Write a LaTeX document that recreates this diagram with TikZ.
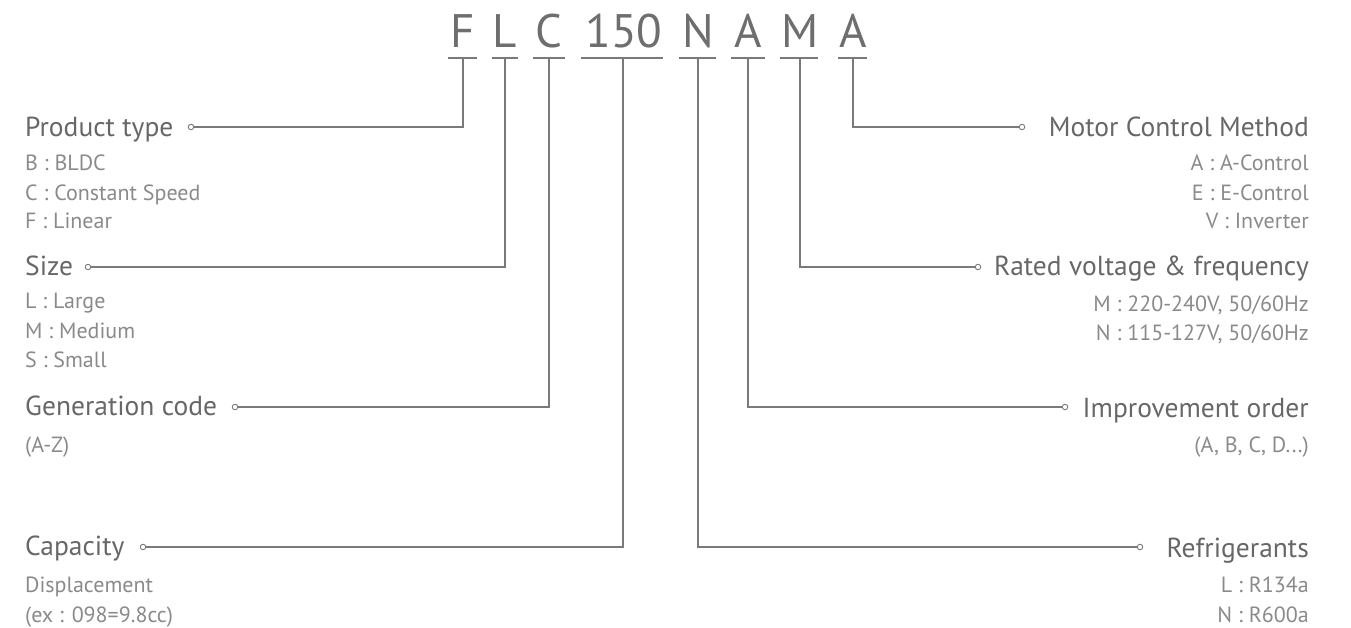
\documentclass[tikz,border=0pt]{standalone}
\usepackage{fontspec}
\setmainfont{PT Sans}
\definecolor{codecol}{HTML}{6E6E6E}
\definecolor{headcol}{HTML}{676767}
\definecolor{subcol}{HTML}{8A8A8A}
\definecolor{linecol}{HTML}{7A7A7A}
\begin{document}
\begin{tikzpicture}[x=1pt,y=-1pt,
  code/.style={font=\fontsize{47}{47}\selectfont, text=codecol, anchor=base, inner sep=0},
  head/.style={font=\fontsize{27.5}{27.5}\selectfont, text=headcol, inner sep=0},
  sub/.style={font=\fontsize{22}{22}\selectfont, text=subcol, inner sep=0},
  ring/.style={circle, draw=linecol, line width=0.9pt, inner sep=0, minimum size=5.5pt, fill=white},
  conn/.style={draw=linecol, line width=1.4pt},
  uline/.style={draw=linecol, line width=2.8pt}]
\useasboundingbox (0,0) rectangle (1351,627);
% code letters
\node[code] (cF) at (463,47) {F};
\node[code] (cL) at (505,47) {L};
\node[code] (cC) at (549,47) {C};
\node[code] (c150) at (624,47) {150};
\node[code] (cN) at (698,47) {N};
\node[code] (cA1) at (748,47) {A};
\node[code] (cM) at (800,47) {M};
\node[code] (cA2) at (853,47) {A};
% underline centres
\coordinate (uF) at (463,58);
\coordinate (uL) at (505,58);
\coordinate (uC) at (549,58);
\coordinate (u150) at (623,58);
\coordinate (uN) at (698,58);
\coordinate (uA1) at (748,58);
\coordinate (uM) at (800,58);
\coordinate (uA2) at (853,58);
\draw[uline] ([xshift=-15pt]uF) -- ([xshift=14pt]uF);
\draw[uline] ([xshift=-13pt]uL) -- ([xshift=13pt]uL);
\draw[uline] ([xshift=-16pt]uC) -- ([xshift=16pt]uC);
\draw[uline] ([xshift=-42pt]u150) -- ([xshift=40pt]u150);
\draw[uline] ([xshift=-19pt]uN) -- ([xshift=18pt]uN);
\draw[uline] ([xshift=-17pt]uA1) -- ([xshift=17pt]uA1);
\draw[uline] ([xshift=-20pt]uM) -- ([xshift=18pt]uM);
\draw[uline] ([xshift=-15pt]uA2) -- ([xshift=14pt]uA2);
% left labels
\node[head, anchor=base west] (hPT) at (25,136) {Product type};
\node[sub, anchor=base west] (sB) at (25,170) {B : BLDC};
\node[sub, anchor=base west] (sC) at (25,200) {C : Constant Speed};
\node[sub, anchor=base west] (sF) at (25,228) {F : Linear};
\node[head, anchor=base west] (hSZ) at (25,275) {Size};
\node[sub, anchor=base west] (sL) at (25,308) {L : Large};
\node[sub, anchor=base west] (sM) at (25,338) {M : Medium};
\node[sub, anchor=base west] (sS) at (25,367) {S : Small};
\node[head, anchor=base west] (hGC) at (25,415) {Generation code};
\node[sub, anchor=base west] (sAZ) at (25,452) {(A-Z)};
\node[head, anchor=base west] (hCP) at (25,555) {Capacity};
\node[sub, anchor=base west] (sDP) at (25,592) {Displacement};
\node[sub, anchor=base west] (sEX) at (25,622) {(ex : 098=9.8cc)};
% right labels
\node[head, anchor=base east] (hMC) at (1309,136) {Motor Control Method};
\node[sub, anchor=base east] (sAC) at (1309,170) {A : A-Control};
\node[sub, anchor=base east] (sEC) at (1309,200) {E : E-Control};
\node[sub, anchor=base east] (sVI) at (1309,228) {V : Inverter};
\node[head, anchor=base east] (hRV) at (1309,275) {Rated voltage \& frequency};
\node[sub, anchor=base east] (sMV) at (1309,311) {M : 220-240V, 50/60Hz};
\node[sub, anchor=base east] (sNV) at (1309,340) {N : 115-127V, 50/60Hz};
\node[head, anchor=base east] (hIO) at (1309,417) {Improvement order};
\node[sub, anchor=base east] (sIO) at (1309,452) {(A, B, C, D...)};
\node[head, anchor=base east] (hRF) at (1309,557) {Refrigerants};
\node[sub, anchor=base east] (sRL) at (1309,592) {L : R134a};
\node[sub, anchor=base east] (sRN) at (1309,622) {N : R600a};
% rings
\node[ring] (oPT) at (191,127) {};
\node[ring] (oSZ) at (88,267) {};
\node[ring] (oGC) at (235,407) {};
\node[ring] (oCP) at (143,547) {};
\node[ring] (oMC) at (1022,127) {};
\node[ring] (oRV) at (978,267) {};
\node[ring] (oIO) at (1065,407) {};
\node[ring] (oRF) at (1140,547) {};
% connectors
\draw[conn] (oPT.east) -| (uF);
\draw[conn] (oSZ.east) -| (uL);
\draw[conn] (oGC.east) -| (uC);
\draw[conn] (oCP.east) -| (u150);
\draw[conn] (oMC.west) -| (uA2);
\draw[conn] (oRV.west) -| (uM);
\draw[conn] (oIO.west) -| (uA1);
\draw[conn] (oRF.west) -| (uN);
\end{tikzpicture}
\end{document}
